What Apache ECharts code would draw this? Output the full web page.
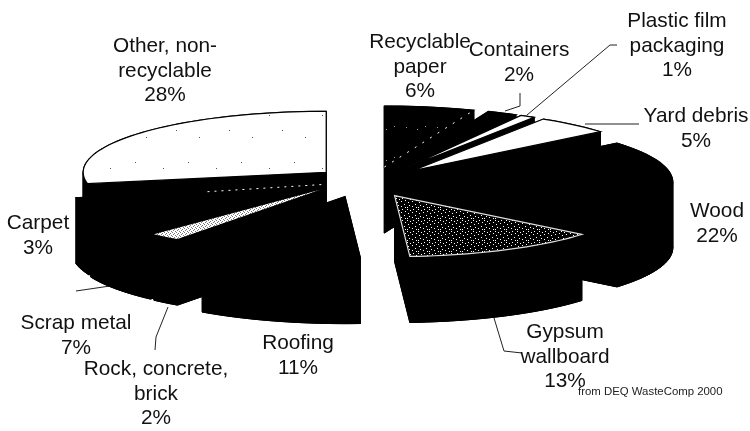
<!DOCTYPE html>
<html>
<head>
<meta charset="utf-8">
<style>html,body{margin:0;padding:0;background:#fff}#chart{width:750px;height:431px}</style>
<script src="https://cdn.jsdelivr.net/npm/echarts@6/dist/echarts.min.js"></script>
</head>
<body>
<div id="chart"></div>
<script>
// Waste composition, clockwise from twelve o'clock
const categories = ['Recyclable\npaper', 'Containers', 'Plastic film\npackaging', 'Yard debris', 'Wood',
  'Gypsum\nwallboard', 'Roofing', 'Rock, concrete,\nbrick', 'Scrap metal', 'Carpet', 'Other, non-\nrecyclable'];
const shares = [6, 2, 1, 5, 22, 13, 11, 2, 7, 3, 28];

// Drawing layout of the tilted pie
const pie = { cx: 373, cy: 182, rx: 243, ry: 61, depth: 66, explode: 0.25 };
const faceKinds = ['darkSpeck', 'black', 'white', 'white', 'black', 'stipple', 'black', 'lightStipple', 'black', 'black', 'whiteSpeck'];
const sliceNudge = { 4: [-4, 0], 5: [-6, 0], 6: [-11, 0], 7: [-14, -4], 8: [-6, -2] };
const labelCentres = [[420, 42], [519, 50], [677, 21], [696, 116], [717, 211], [565, 332], [298, 343], [156, 369], [76, 323], [38, 223], [165, 46]];
const leaders = [
  [[520, 93], [520, 106], [505, 111]],
  [[527, 115], [610, 45], [617, 45]],
  [[585, 124], [639, 124]],
  [[494, 318], [504, 351], [522, 353]],
  [[168, 307], [156, 337], [155, 350]],
  [[76, 291], [110, 286]]
];

function tile(size, bg, dot, cells) {
  const c = document.createElement('canvas');
  c.width = c.height = size;
  const g = c.getContext('2d');
  g.fillStyle = bg;
  g.fillRect(0, 0, size, size);
  g.fillStyle = dot;
  cells.forEach(p => g.fillRect(p[0], p[1], 1, 1));
  return { image: c, repeat: 'repeat' };
}
const fills = {
  black: '#000',
  white: '#fff',
  stipple: tile(11, '#000', '#fff', [[0,0],[3,1],[6,0],[9,2],[1,4],[5,3],[8,6],[2,7],[5,8],[0,9],[9,9]]),
  lightStipple: tile(4, '#fff', '#777', [[0,0],[2,1],[1,2],[3,3]]),
  whiteSpeck: tile(53, '#fff', '#555', [[4,9],[29,3],[17,24],[40,31]]),
  darkSpeck: tile(31, '#000', '#999', [[3,3],[14,5],[22,2]])
};

// Cumulative start and end angles of each slice, in degrees
const total = shares.reduce((a, b) => a + b, 0);
const spans = [];
shares.reduce((run, v) => { spans.push([run / total * 360, (run + v) / total * 360]); return run + v; }, 0);

const rad = d => d * Math.PI / 180;
function apex(i) {
  const mid = rad((spans[i][0] + spans[i][1]) / 2);
  const n = sliceNudge[i] || [0, 0];
  return [pie.cx + pie.explode * pie.rx * Math.sin(mid) + n[0],
          pie.cy - pie.explode * pie.ry * Math.cos(mid) + n[1]];
}
function rimOf(i) {
  const a = apex(i), pts = [], steps = Math.max(2, Math.ceil((spans[i][1] - spans[i][0]) / 2));
  for (let k = 0; k <= steps; k++) {
    const t = rad(spans[i][0] + (spans[i][1] - spans[i][0]) * k / steps);
    pts.push([a[0] + pie.rx * Math.sin(t), a[1] - pie.ry * Math.cos(t)]);
  }
  return pts;
}
const down = pts => pts.map(p => [p[0], p[1] + pie.depth]);
const poly = (points, style) => ({ type: 'polygon', shape: { points }, style });

function renderSides(params, api) {
  const i = api.value(0), a = apex(i), rim = rimOf(i), low = down(rim), ink = { fill: '#000', stroke: '#000', lineWidth: 1 };
  const apexLow = [a[0], a[1] + pie.depth];
  const children = [
    poly([apexLow].concat(low), ink),
    poly([a, rim[0], low[0], apexLow], ink),
    poly([a, rim[rim.length - 1], low[low.length - 1], apexLow], ink)
  ];
  // Curved wall, one facet per rim step
  for (let k = 0; k < rim.length - 1; k++) {
    children.push(poly([rim[k], rim[k + 1], low[k + 1], low[k]], ink));
  }
  return { type: 'group', children };
}
function renderTops(params, api) {
  const i = api.value(0), a = apex(i), rim = rimOf(i);
  const kind = faceKinds[i];
  const line = kind === 'stipple' ? '#ddd' : '#000';
  const children = [poly([a].concat(rim), {
    fill: fills[kind], stroke: line, lineWidth: kind === 'lightStipple' ? 0 : 1.2
  })];
  // Broken white edge where a dark face meets its neighbour
  if (kind === 'darkSpeck') {
    children.push({ type: 'polyline', shape: { points: [a, rim[rim.length - 1]] },
      style: { stroke: '#fff', lineWidth: 1, lineDash: [2, 7], fill: null } });
  }
  if (kind === 'whiteSpeck') {
    const p = rim[0];
    children.push({ type: 'polyline', shape: { points: [[p[0] + 120, p[1] + 8], [a[0], a[1] + 12]] },
      style: { stroke: '#fff', lineWidth: 1, lineDash: [2, 5], fill: null } });
  }
  return { type: 'group', children };
}

const seriesData = shares.map((v, i) => [i, v]);
const textElements = categories.map((name, i) => ({
  type: 'text',
  x: labelCentres[i][0],
  y: labelCentres[i][1] - 12,
  style: {
    text: name + '\n' + shares[i] + '%',
    font: '20.8px "Liberation Sans", Arial, sans-serif',
    lineHeight: 24.6,
    fill: '#111',
    align: 'center',
    verticalAlign: 'top'
  }
}));
const leaderElements = leaders.map(points => ({
  type: 'polyline',
  shape: { points },
  style: { stroke: '#222', lineWidth: 1, fill: null }
}));

echarts.init(document.getElementById('chart'), null, { renderer: 'canvas' }).setOption({
  animation: false,
  backgroundColor: '#fff',
  series: [
    { type: 'custom', coordinateSystem: 'none', z: 1, data: seriesData, renderItem: renderSides, silent: true },
    { type: 'custom', coordinateSystem: 'none', z: 2, data: seriesData, renderItem: renderTops, silent: true }
  ],
  graphic: { elements: leaderElements.concat(textElements, [{
    type: 'text', x: 578, y: 386,
    style: { text: 'from DEQ WasteComp 2000', font: '11.4px "Liberation Sans", Arial, sans-serif', fill: '#222' }
  }]) }
});
</script>
</body>
</html>
